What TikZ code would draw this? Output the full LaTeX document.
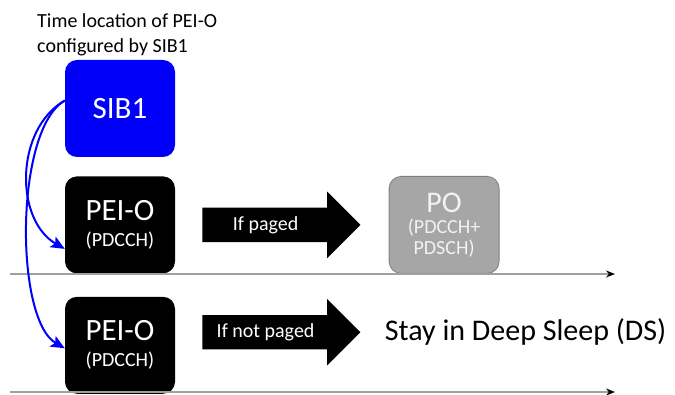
\documentclass[tikz,border=0pt]{standalone}
\usepackage{fontspec}
\setmainfont{Carlito}
\usetikzlibrary{arrows.meta, positioning, shapes.arrows, calc}

\definecolor{siblue}{RGB}{0,0,250}
\definecolor{pogray}{RGB}{166,166,166}
\definecolor{poedge}{RGB}{128,128,128}
\definecolor{linegray}{RGB}{160,160,160}

\tikzset{
  box/.style={rectangle, rounded corners=12pt, minimum width=110pt,
    minimum height=97pt, inner sep=0pt, align=center, text=white},
  bigarrow/.style={single arrow, fill=black, inner xsep=0pt, inner ysep=17pt,
    single arrow head extend=16pt, minimum height=158pt},
  timeline/.style={draw=linegray, line width=1.4pt, -{Stealth[length=9pt, width=7pt, black]}},
  paging link/.style={draw=siblue, line width=2pt, -{Stealth[length=14pt, width=12pt, inset=3pt]}},
  small/.style={font=\fontsize{20}{23}\selectfont}
}

\newcommand{\subline}[1]{{\fontsize{20}{22}\selectfont #1}}

\begin{document}
\begin{tikzpicture}[x=1pt, y=-1pt]
  \useasboundingbox (0,0) rectangle (675,395);

  % boxes
  \node[box, fill=siblue, font=\fontsize{31}{34}\selectfont] (sib) at (120,108.5) {SIB1};
  \node[box, fill=black, font=\fontsize{31}{26}\selectfont, below=19pt of sib] (pei1)
    {PEI-O\\\subline{(PDCCH)}};
  \node[box, fill=black, font=\fontsize{31}{26}\selectfont, below=23pt of pei1] (pei2)
    {PEI-O\\\subline{(PDCCH)}};

  % title
  \node[anchor=north west, inner sep=0pt, align=left,
    font=\fontsize{20}{25}\selectfont] (title) at (37,13)
    {Time location of PEI-O\\configured by SIB1};

  % decisions
  \node[bigarrow, right=27pt of pei1] (arr1) {};
  \node[small, text=white] (lbl1) at ($(arr1.tail)!0.4!(arr1.tip)$) {If paged};
  \node[bigarrow, right=27pt of pei2, yshift=13pt] (arr2) {};
  \node[small, text=white] (lbl2) at ($(arr2.tail)!0.4!(arr2.tip)$) {If not paged};

  \node[box, fill=pogray, draw=poedge, line width=0.8pt, text=white!95!black,
    font=\fontsize{30}{21}\selectfont, right=28pt of arr1] (po)
    {PO\\\subline{(PDCCH+}\\\subline{PDSCH)}};
  \node[right=24pt of arr2, inner sep=0pt, font=\fontsize{30}{34}\selectfont] (ds)
    {Stay in Deep Sleep (DS)};

  % time axes
  \coordinate (t1s) at (10,274);
  \coordinate (t1e) at (615,274);
  \coordinate (t2s) at (10,392);
  \coordinate (t2e) at (615,392);
  \draw[timeline] (t1s) -- (t1e);
  \draw[timeline] (t2s) -- (t2e);

  % SIB1 configures PEI-O
  \draw[paging link] ([yshift=8pt]sib.west) to[out=210, in=150] ([yshift=-24pt]pei1.west);
  \draw[paging link] ([yshift=8pt]sib.west) to[out=210, in=150, looseness=0.6] ([yshift=-3pt]pei2.west);
\end{tikzpicture}
\end{document}
